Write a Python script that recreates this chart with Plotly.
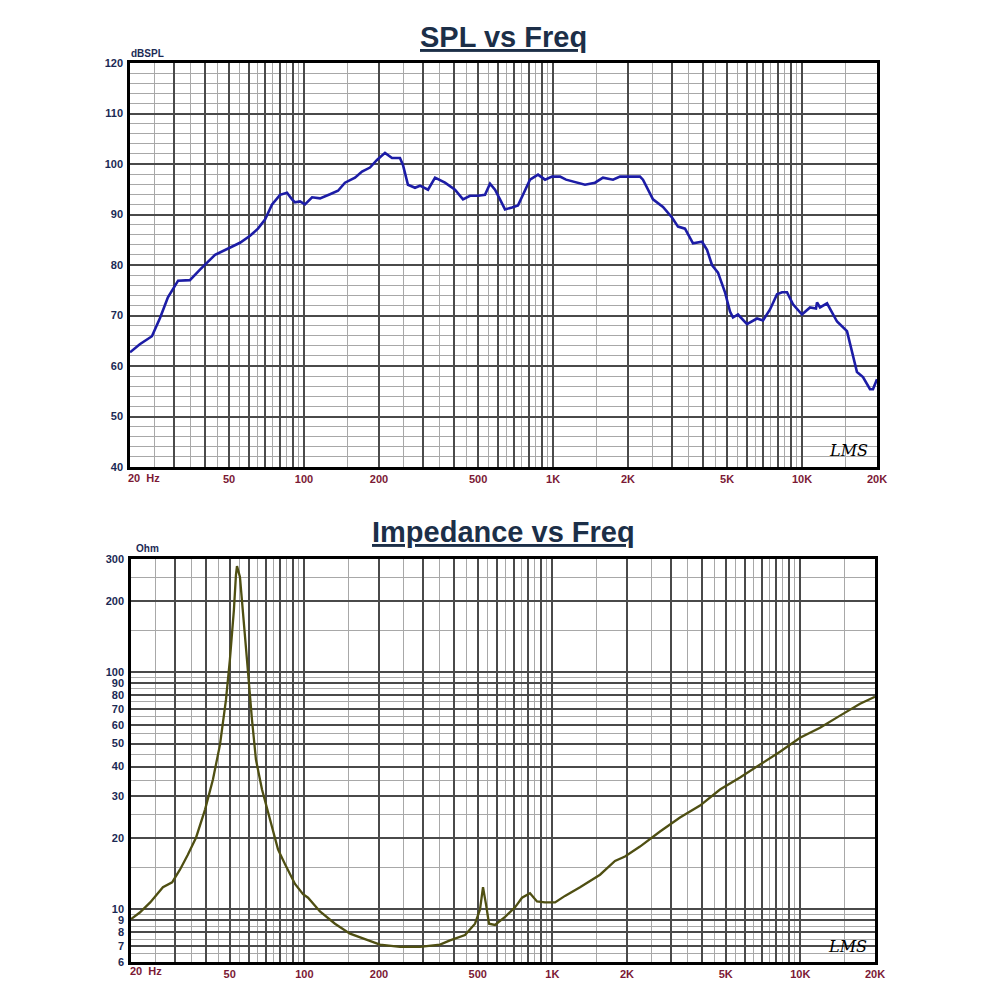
import plotly.graph_objects as go

# ---------------- DATA ----------------
spl_freq = [20, 21.9, 24.5, 26.4, 28.4, 31.2, 34.8, 38.2, 43.9, 48.1, 55.3, 60.7, 65.3, 69.7,
            74.4, 80.1, 85.4, 89.5, 92, 96.3, 100.9, 107.7, 115.9, 127.1, 136.9, 146, 160.2,
            170.9, 184, 196.3, 211.4, 225.6, 242.8, 249.6, 261.4, 279, 292.2, 314.7, 335.8,
            368.2, 403.9, 434.9, 464, 499.5, 533, 558.3, 584.7, 612.3, 641.3, 684.2, 723.2,
            757.3, 808, 870.3, 928.6, 990.9, 1067, 1127.6, 1225.2, 1344, 1474, 1587, 1741,
            1858, 2234, 2297, 2520, 2764, 3004, 3176, 3388, 3648, 3965, 4153, 4349, 4597,
            4904, 5137, 5281, 5531, 6010, 6594, 6970, 7437, 7934, 8310, 8702, 9199, 9994,
            10765, 11379, 11485, 11808, 12600, 13818, 15154, 16619, 17568, 18748, 19272, 20000]
spl_db = [62.7, 64.3, 65.9, 69.5, 73.6, 76.9, 77.0, 79.1, 82.0, 83.0, 84.4, 85.8, 87.2, 89.0,
          92.0, 93.9, 94.3, 93.0, 92.4, 92.6, 92.0, 93.4, 93.2, 94.0, 94.7, 96.3, 97.3,
          98.5, 99.3, 100.8, 102.2, 101.2, 101.2, 99.8, 95.9, 95.3, 95.7, 94.9, 97.3,
          96.3, 94.9, 93.0, 93.7, 93.7, 93.9, 96.1, 94.9, 93.0, 91.0, 91.4, 91.8,
          93.9, 96.9, 97.9, 96.9, 97.5, 97.5, 96.9, 96.5, 95.9, 96.3, 97.3, 96.9,
          97.5, 97.5, 96.9, 93.0, 91.5, 89.4, 87.6, 87.2, 84.3, 84.6, 83.0, 80.0, 78.5,
          74.6, 70.8, 69.6, 70.2, 68.3, 69.4, 69.0, 71.2, 74.2, 74.6, 74.6, 72.2, 70.2,
          71.6, 71.4, 72.6, 71.6, 72.4, 68.8, 66.9, 58.8, 57.8, 55.4, 55.4, 57.4]

imp_freq = [20, 21.7, 23.9, 25.7, 26.9, 29.3, 31.5, 33.9, 36.6, 39.8, 42.8, 45.7, 48.3, 50.1,
            52.0, 53.0, 53.5, 55.0, 56.6, 58.7, 61.5, 63.8, 67.5, 72.7, 78.3, 83.6, 91.7,
            98.8, 103.5, 115.6, 132.9, 152.8, 175.6, 201.8, 243.0, 292.7, 352.4, 386.6,
            444.5, 487.8, 510.9, 525.3, 540.2, 555.4, 587.2, 644.6, 707.1, 754.7, 812.6,
            867.2, 934.2, 1025.6, 1124.7, 1293, 1557, 1789, 1963, 2256, 2718, 3271, 3939,
            4743, 5711, 6877, 8279, 9970, 12005, 14454, 17407, 20000]
imp_ohm = [9.1, 9.7, 10.7, 11.8, 12.4, 13.0, 14.7, 17.0, 20.1, 26.4, 35.3, 49.5, 76.4, 112.9,
           183, 257, 280, 252, 183, 113, 63, 42.8, 32, 23.9, 17.9, 15.5, 12.8,
           11.6, 11.2, 9.8, 8.7, 7.9, 7.5, 7.1, 6.95, 6.95, 7.1, 7.4,
           7.8, 8.7, 10.0, 12.4, 10.5, 8.7, 8.6, 9.3, 10.2, 11.2, 11.7,
           10.8, 10.7, 10.7, 11.4, 12.4, 14.0, 16.0, 16.7, 18.4, 21.3, 24.4, 27.4,
           32, 36, 40.8, 46.2, 52.9, 58.3, 65.6, 73.6, 78.8]

x_dark = [30, 40, 50, 60, 70, 80, 90, 100, 200, 300, 400, 500, 600, 700, 800, 900, 1000,
          2000, 3000, 4000, 5000, 6000, 7000, 8000, 9000, 10000, 20000]
x_light = [25, 35, 45, 55, 65, 75, 85, 95, 150, 250, 350, 450, 550, 650, 750, 850, 950,
           1500, 2500, 3500, 4500, 5500, 6500, 7500, 8500, 9500, 15000]
x_labels = {50: "50", 100: "100", 200: "200", 500: "500", 1000: "1K", 2000: "2K",
            5000: "5K", 10000: "10K", 20000: "20K"}

imp_dark = [6, 7, 8, 9, 10, 20, 30, 40, 50, 60, 70, 80, 90, 100, 200, 300]
imp_light = [6.5, 7.5, 8.5, 9.5, 15, 25, 35, 45, 55, 65, 75, 85, 95, 150, 250]

# ---------------- STYLE ----------------
DARK = "#4a4a4a"
LIGHT = "#a8a8a8"
NAVY = "#1b2a55"
MAROON = "#7b1935"
TITLE = "#1c2f48"
FONT = "Liberation Sans"

fig = go.Figure()
fig.add_trace(go.Scatter(x=spl_freq, y=spl_db, mode="lines",
                         line=dict(color="#1c1ca6", width=2.6), xaxis="x", yaxis="y",
                         showlegend=False))
fig.add_trace(go.Scatter(x=imp_freq, y=imp_ohm, mode="lines",
                         line=dict(color="#4f4f12", width=2.3), xaxis="x2", yaxis="y2",
                         showlegend=False))

xticktext = [x_labels.get(v, "") for v in x_dark]


def xaxis(domain):
    return dict(type="log", range=[1.30103, 4.30103], domain=domain, automargin=False,
                tickmode="array", tickvals=x_dark, ticktext=xticktext,
                showgrid=True, gridcolor=DARK, gridwidth=1.5,
                minor=dict(tickmode="array", tickvals=x_light, showgrid=True,
                           gridcolor=LIGHT, gridwidth=1.2, ticks=""),
                ticks="", showline=True, mirror=True, linecolor="black", linewidth=2.5,
                tickfont=dict(family=FONT, size=11, color=MAROON, weight="bold"),
                zeroline=False, fixedrange=True)


fig.update_layout(
    width=1000, height=1000, margin=dict(l=0, r=0, t=0, b=0, autoexpand=False),
    paper_bgcolor="white", plot_bgcolor="white",
    xaxis=dict(xaxis([0.130, 0.877]), anchor="y"),
    yaxis=dict(range=[40, 120], domain=[0.533, 0.937], anchor="x", automargin=False,
               tickmode="linear", tick0=40, dtick=10,
               showgrid=True, gridcolor=DARK, gridwidth=1.5,
               minor=dict(dtick=2, showgrid=True, gridcolor=LIGHT, gridwidth=1.2, ticks=""),
               ticks="", showline=True, mirror=True, linecolor="black", linewidth=2.5,
               tickfont=dict(family=FONT, size=11, color=NAVY, weight="bold"),
               zeroline=False, ticklabelstandoff=2),
    xaxis2=dict(xaxis([0.131, 0.875]), anchor="y2"),
    yaxis2=dict(type="log", range=[0.778151, 2.477121], domain=[0.038, 0.441], anchor="x2",
                automargin=False,
                tickmode="array", tickvals=imp_dark, ticktext=[str(v) for v in imp_dark],
                showgrid=True, gridcolor=DARK, gridwidth=1.5,
                minor=dict(tickmode="array", tickvals=imp_light, showgrid=True,
                           gridcolor=LIGHT, gridwidth=1.2, ticks=""),
                ticks="", showline=True, mirror=True, linecolor="black", linewidth=2.5,
                tickfont=dict(family=FONT, size=11, color=NAVY, weight="bold"),
                zeroline=False, ticklabelstandoff=2),
)

annotations = [
    dict(text="<u>SPL vs Freq</u>", x=0.503, y=0.963, xref="paper", yref="paper",
         showarrow=False, xanchor="center", yanchor="middle",
         font=dict(family=FONT, size=29, color=TITLE, weight="bold")),
    dict(text="<u>Impedance vs Freq</u>", x=0.503, y=0.468, xref="paper", yref="paper",
         showarrow=False, xanchor="center", yanchor="middle",
         font=dict(family=FONT, size=29, color=TITLE, weight="bold")),
    dict(text="dBSPL", x=0.129, y=0.947, xref="paper", yref="paper", showarrow=False,
         xanchor="left", yanchor="middle",
         font=dict(family=FONT, size=10, color=NAVY, weight="bold")),
    dict(text="Ohm", x=0.134, y=0.451, xref="paper", yref="paper", showarrow=False,
         xanchor="left", yanchor="middle",
         font=dict(family=FONT, size=10, color=NAVY, weight="bold")),
    dict(text="20\u00a0\u00a0Hz", x=0.126, y=0.522, xref="paper", yref="paper", showarrow=False,
         xanchor="left", yanchor="middle",
         font=dict(family=FONT, size=11, color=MAROON, weight="bold")),
    dict(text="20\u00a0\u00a0Hz", x=0.128, y=0.029, xref="paper", yref="paper", showarrow=False,
         xanchor="left", yanchor="middle",
         font=dict(family=FONT, size=11, color=MAROON, weight="bold")),
    dict(text="LMS", x=0.848, y=0.549, xref="paper", yref="paper", showarrow=False,
         xanchor="center", yanchor="middle",
         font=dict(family="DejaVu Serif", size=16, color="black", style="italic")),
    dict(text="LMS", x=0.847, y=0.054, xref="paper", yref="paper", showarrow=False,
         xanchor="center", yanchor="middle",
         font=dict(family="DejaVu Serif", size=16, color="black", style="italic")),
]
fig.update_layout(annotations=annotations)

fig.write_html("out.html")
